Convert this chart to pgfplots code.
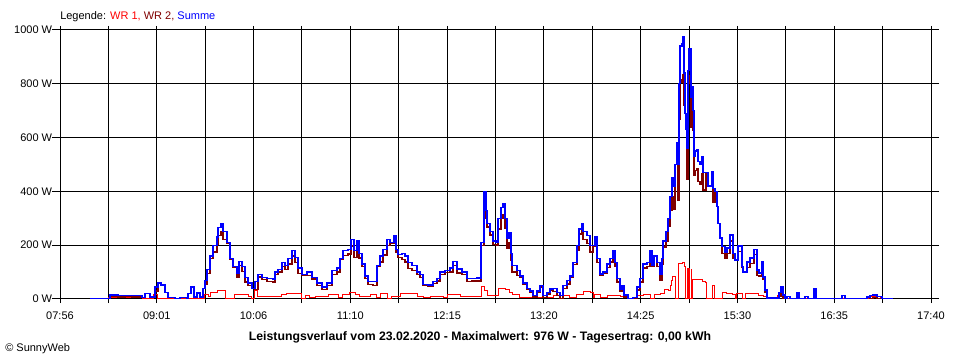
\documentclass[border=0pt]{standalone}
\usepackage{pgfplots}
\pgfplotsset{compat=1.18}
\usepackage{fontspec}
\setmainfont{Liberation Sans}
\definecolor{wrone}{HTML}{FF0000}
\definecolor{wrtwo}{HTML}{800000}
\definecolor{summe}{HTML}{0000FF}
\begin{document}
\fontsize{8.25}{10}\selectfont
\begin{tikzpicture}
\useasboundingbox (-45pt,-45.75pt) rectangle (675pt,224.25pt);
\begin{axis}[
  at={(0,0)}, anchor=south west,
  scale only axis, width=653.25pt, height=201.75pt,
  xmin=0, xmax=584, ymin=0, ymax=1000,
  xtick={0,64.889,129.778,194.667,259.556,324.444,389.333,454.222,519.111,584},
  xticklabels={07:56,09:01,10:06,11:10,12:15,13:20,14:25,15:30,16:35,17:40},
  minor xtick={32.444,97.333,162.222,227.111,292,356.889,421.778,486.667,551.556},
  ytick={0,200,400,600,800,1000},
  yticklabel={\pgfmathprintnumber[assume math mode=true,1000 sep={}]{\tick}\ W},
  grid=both,
  major grid style={black, line width=0.75pt},
  minor grid style={black, line width=0.75pt},
  axis line style={black, line width=0.75pt},
  tick align=outside,
  major tick length=3pt, minor tick length=3pt,
  tick style={black, line width=0.75pt},
  ytick style={/pgfplots/major tick length=6pt},
  ticklabel style={font=\fontsize{8.25}{10}\selectfont},
  xticklabel style={yshift=-4pt},
  yticklabel style={xshift=0pt},
  clip=true,
]
% WR 1
\addplot[const plot, wrone, line width=0.75pt] coordinates {
(32.2,4) (55.0,0) (62.4,15) (65.7,2) (70.4,0) (97.2,15) (99.9,10) (101.2,25) (104.6,25)
(105.9,30) (111.3,2) (116.0,2) (117.3,15) (122.0,17) (126.1,10) (128.7,2) (130.7,30)
(132.1,8) (136.1,10) (140.8,10) (148.8,15) (152.2,20) (161.6,2) (164.3,12) (167.6,6)
(171.0,10) (179.7,15) (186.4,4) (189.7,18) (194.4,25) (197.8,18) (201.1,10) (207.9,15)
(212.5,5) (214.6,22) (219.9,2) (222.6,10) (228.0,22) (234.7,20) (239.4,10) (243.4,6)
(248.1,8) (256.8,6) (260.1,15) (268.2,10) (282.9,45) (284.3,30) (286.3,12) (293.7,40)
(298.4,37) (301.7,25) (303.7,18) (308.4,5) (321.8,6) (330.6,12) (341.9,6) (346.6,18)
(350.7,28) (355.4,25) (357.4,4) (358.7,15) (362.1,4) (366.8,12) (375.5,8) (380.2,3)
(386.9,12) (390.9,15) (395.6,3) (398.9,15) (402.3,22) (405.6,37) (407.7,30) (409.0,52)
(410.3,70) (411.0,85) (412.4,0) (414.4,133) (417.1,135) (418.4,120) (419.1,0) (420.4,115)
(421.1,0) (421.7,115) (422.4,0) (423.1,110) (423.7,0) (424.4,72) (427.8,72) (430.5,65)
(432.5,60) (433.2,0) (437.8,50) (438.5,0) (443.9,25) (447.2,22) (450.6,18) (452.6,2)
(453.9,20) (457.3,2) (459.3,20) (466.0,20) (468.0,12) (471.4,10) (474.0,0) (481.4,12)
(486.1,0) (541.8,10) (549.8,0) (558.5,0)
};
% WR 2
\addplot[const plot, wrtwo, line width=1pt] coordinates {
(20.1,0) (26.8,2) (32.2,0) (33.5,11) (38.9,8) (43.6,10) (48.3,8) (53.6,9) (55.0,5)
(57.0,20) (60.3,8) (63.7,30) (65.7,58) (67.7,50) (70.4,25) (72.4,5) (77.1,2) (80.5,6)
(85.2,3) (85.8,20) (87.8,45) (89.8,8) (91.9,22) (93.9,8) (95.9,40) (97.2,55) (98.6,95)
(100.6,150) (102.6,175) (105.3,205) (105.9,235) (107.9,251) (109.3,220) (112.0,208)
(114.0,148) (116.0,118) (118.7,80) (120.0,125) (122.0,103) (124.0,63) (126.1,50)
(128.7,38) (130.7,35) (132.8,82) (135.4,72) (138.8,65) (142.8,62) (144.2,90) (146.2,100)
(148.8,120) (150.9,110) (152.9,130) (155.6,160) (157.6,135) (159.6,95) (162.3,88)
(165.6,88) (169.0,74) (172.3,50) (175.7,35) (179.0,50) (182.4,90) (185.7,100) (187.7,146)
(189.7,162) (193.1,167) (195.1,197) (197.1,155) (199.1,197) (200.5,152) (202.5,120)
(204.5,75) (206.5,55) (209.9,50) (212.5,120) (214.6,138) (216.6,163) (219.2,200)
(221.3,208) (223.9,225) (225.3,175) (226.6,155) (229.3,148) (231.3,138) (233.3,113)
(236.0,105) (239.4,90) (241.4,80) (243.4,49) (246.7,46) (250.1,57) (252.8,67) (254.8,92)
(258.1,99) (261.5,100) (263.5,125) (266.2,97) (269.5,90) (272.9,65) (276.2,67) (279.6,70)
(280.9,65) (282.3,200) (284.3,370) (285.6,300) (286.3,268) (288.3,238) (290.3,203)
(292.3,198) (293.7,260) (295.7,300) (297.0,315) (298.4,263) (299.7,188) (301.0,208)
(302.4,145) (303.1,100) (306.4,87) (308.4,80) (310.4,55) (313.1,35) (315.1,25) (317.1,7)
(319.8,25) (321.8,44) (323.8,6) (326.5,19) (328.5,31) (330.6,28) (333.2,13) (335.2,0)
(337.3,38) (339.9,56) (341.9,79) (344.0,129) (346.6,182) (348.0,242) (350.0,262)
(350.7,222) (353.3,207) (355.4,175) (357.4,196) (358.7,215) (360.0,135) (362.1,89)
(364.1,96) (366.8,118) (368.8,138) (370.8,168) (372.1,123) (373.5,63) (375.5,29)
(376.8,42) (378.2,7) (380.8,0) (384.2,2) (386.9,33) (388.9,63) (390.9,115) (393.6,120)
(395.6,177) (396.9,122) (398.3,157) (400.3,120) (402.3,71) (403.6,128) (404.3,193)
(406.3,213) (407.7,270) (409.0,328) (410.3,380) (411.0,335) (412.4,500) (413.7,580)
(414.4,367) (415.1,667) (415.7,807) (417.1,815) (417.7,835) (418.4,720) (419.1,690)
(419.7,630) (420.4,445) (421.1,830) (421.7,800) (423.1,640) (423.7,780) (424.4,628)
(425.1,458) (425.8,478) (427.1,483) (427.8,438) (429.1,428) (430.5,465) (431.1,405)
(433.2,470) (434.5,420) (437.2,475) (437.8,360) (439.2,400) (440.5,343) (441.2,280)
(442.5,227) (443.9,170) (445.9,150) (447.2,168) (449.2,216) (451.2,152) (452.6,143)
(454.6,177) (457.3,118) (457.9,98) (460.6,118) (462.6,132) (465.3,165) (467.3,88)
(468.7,85) (470.7,126) (471.4,72) (472.7,23) (474.0,4) (480.7,4) (482.1,11) (483.4,34)
(484.8,3) (486.1,3) (487.5,9) (489.5,2) (494.2,22) (495.5,2) (499.5,9) (501.5,2)
(505.6,37) (506.9,3) (510.9,2) (516.3,2) (519.6,2) (524.3,12) (526.3,2) (531.0,2)
(541.1,8) (543.1,2) (545.1,5) (547.8,0) (551.1,2) (558.5,2)
};
% Summe
\addplot[const plot, summe, line width=1pt] coordinates {
(20.1,0) (26.8,2) (32.2,3) (33.5,15) (38.9,12) (43.6,14) (48.3,12) (53.6,13) (55.0,5)
(57.0,20) (60.3,8) (63.7,45) (65.7,60) (67.7,52) (70.4,25) (72.4,5) (77.1,2) (80.5,6)
(85.2,3) (85.8,20) (87.8,45) (89.8,8) (91.9,22) (93.9,8) (95.9,40) (97.2,70) (98.6,110)
(100.6,160) (102.6,200) (105.3,230) (105.9,265) (107.9,281) (109.3,250) (112.0,210)
(114.0,150) (116.0,120) (118.7,95) (120.0,140) (122.0,120) (124.0,80) (126.1,60)
(128.7,40) (130.7,65) (132.8,90) (135.4,80) (138.8,75) (142.8,72) (144.2,100) (146.2,110)
(148.8,135) (150.9,125) (152.9,150) (155.6,180) (157.6,155) (159.6,115) (162.3,90)
(165.6,100) (169.0,80) (172.3,60) (175.7,45) (179.0,60) (182.4,105) (185.7,115)
(187.7,150) (189.7,180) (193.1,185) (195.1,222) (197.1,180) (199.1,215) (200.5,170)
(202.5,130) (204.5,85) (206.5,65) (209.9,65) (212.5,125) (214.6,160) (216.6,185)
(219.2,222) (221.3,210) (223.9,235) (225.3,185) (226.6,165) (229.3,170) (231.3,160)
(233.3,135) (236.0,125) (239.4,100) (241.4,90) (243.4,55) (246.7,52) (250.1,65)
(252.8,75) (254.8,100) (258.1,105) (261.5,115) (263.5,140) (266.2,112) (269.5,100)
(272.9,75) (276.2,77) (279.6,80) (280.9,75) (282.3,210) (284.3,400) (285.6,330)
(286.3,280) (288.3,250) (290.3,215) (292.3,210) (293.7,300) (295.7,340) (297.0,355)
(298.4,300) (299.7,225) (301.0,245) (302.4,170) (303.1,125) (306.4,105) (308.4,85)
(310.4,60) (313.1,40) (315.1,30) (317.1,12) (319.8,30) (321.8,50) (323.8,12) (326.5,25)
(328.5,37) (330.6,40) (333.2,25) (335.2,12) (337.3,50) (339.9,68) (341.9,85) (344.0,135)
(346.6,200) (348.0,260) (350.0,280) (350.7,250) (353.3,235) (355.4,200) (357.4,200)
(358.7,230) (360.0,150) (362.1,93) (364.1,100) (366.8,130) (368.8,150) (370.8,180)
(372.1,135) (373.5,75) (375.5,37) (376.8,50) (378.2,15) (380.8,2) (384.2,5) (386.9,45)
(388.9,75) (390.9,130) (393.6,135) (395.6,180) (396.9,125) (398.3,160) (400.3,135)
(402.3,93) (403.6,150) (404.3,215) (406.3,250) (407.7,300) (409.0,380) (410.3,450)
(411.0,420) (412.4,500) (413.7,580) (414.4,500) (415.1,800) (415.7,940) (417.1,950)
(417.7,976) (418.4,840) (419.1,690) (419.7,630) (420.4,560) (421.1,850) (421.7,930)
(423.1,750) (423.7,790) (424.4,700) (425.1,530) (425.8,550) (427.1,555) (427.8,510)
(429.1,500) (430.5,530) (431.1,470) (433.2,470) (434.5,420) (437.2,475) (437.8,410)
(439.2,400) (440.5,343) (441.2,280) (442.5,227) (443.9,195) (445.9,175) (447.2,190)
(449.2,238) (451.2,170) (452.6,145) (454.6,197) (457.3,120) (457.9,100) (460.6,138)
(462.6,152) (465.3,185) (467.3,108) (468.7,97) (470.7,138) (471.4,82) (472.7,33)
(474.0,4) (480.7,4) (482.1,23) (483.4,46) (484.8,15) (486.1,3) (487.5,9) (489.5,2)
(494.2,22) (495.5,2) (499.5,9) (501.5,2) (505.6,37) (506.9,3) (510.9,2) (516.3,2)
(519.6,2) (524.3,12) (526.3,2) (531.0,2) (541.1,8) (543.1,12) (545.1,15) (547.8,10)
(551.1,2) (558.5,2)
};
\end{axis}
\node[anchor=base west, inner sep=0pt] at (0pt,209.25pt)
  {Legende: \textcolor{wrone}{WR 1,} \textcolor{wrtwo}{WR 2,} \textcolor{summe}{Summe}};
\node[anchor=base, inner sep=0pt, font=\fontsize{9.2}{11}\selectfont\bfseries] at (315pt,-31.5pt)
  {Leistungsverlauf vom 23.02.2020 - Maximalwert: 976 W - Tagesertrag: 0,00 kWh};
\node[anchor=base west, inner sep=0pt] at (-41.25pt,-39.75pt) {© SunnyWeb};
\end{tikzpicture}
\end{document}
